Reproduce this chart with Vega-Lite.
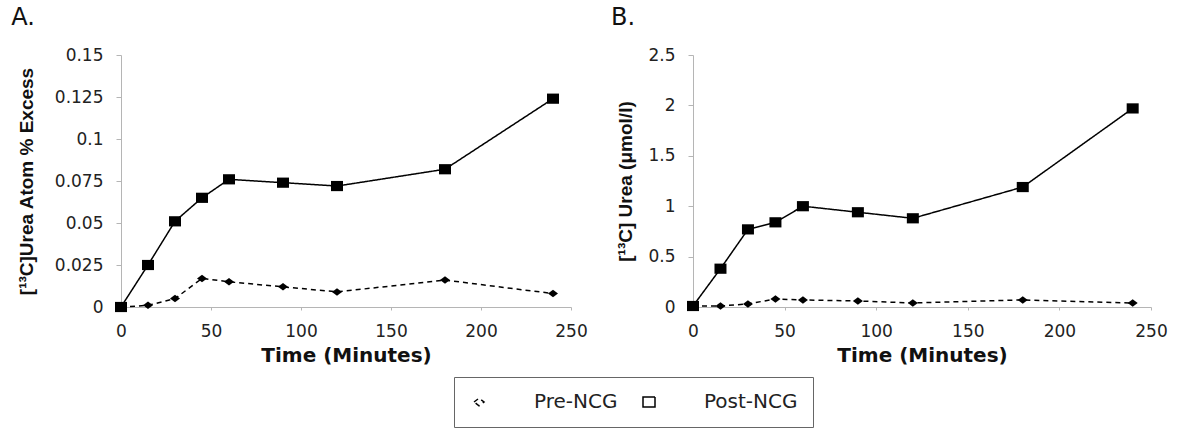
{
  "$schema": "https://vega.github.io/schema/vega-lite/v6.json",
  "padding": {"left": 11, "top": 6, "right": 0, "bottom": 0},
  "config": {
    "font": "DejaVu Sans",
    "view": {"stroke": null},
    "axis": {
      "grid": false,
      "domainColor": "#b5b5b5",
      "tickColor": "#b5b5b5",
      "labelColor": "#222222",
      "labelFont": "DejaVu Sans",
      "labelFontSize": 17,
      "labelFlush": false,
      "titleColor": "#111111"
    },
    "title": {"font": "DejaVu Sans", "fontSize": 24, "fontWeight": "normal", "color": "#111111", "anchor": "start", "frame": "bounds", "dx": -6, "offset": 16}
  },
  "datasets": {
    "A": [
      {"time": 0, "group": "Pre-NCG", "value": 0},
      {"time": 15, "group": "Pre-NCG", "value": 0.001},
      {"time": 30, "group": "Pre-NCG", "value": 0.005},
      {"time": 45, "group": "Pre-NCG", "value": 0.017},
      {"time": 60, "group": "Pre-NCG", "value": 0.015},
      {"time": 90, "group": "Pre-NCG", "value": 0.012},
      {"time": 120, "group": "Pre-NCG", "value": 0.009},
      {"time": 180, "group": "Pre-NCG", "value": 0.016},
      {"time": 240, "group": "Pre-NCG", "value": 0.008},
      {"time": 0, "group": "Post-NCG", "value": 0},
      {"time": 15, "group": "Post-NCG", "value": 0.025},
      {"time": 30, "group": "Post-NCG", "value": 0.051},
      {"time": 45, "group": "Post-NCG", "value": 0.065},
      {"time": 60, "group": "Post-NCG", "value": 0.076},
      {"time": 90, "group": "Post-NCG", "value": 0.074},
      {"time": 120, "group": "Post-NCG", "value": 0.072},
      {"time": 180, "group": "Post-NCG", "value": 0.082},
      {"time": 240, "group": "Post-NCG", "value": 0.124}
    ],
    "B": [
      {"time": 0, "group": "Pre-NCG", "value": 0.01},
      {"time": 15, "group": "Pre-NCG", "value": 0.01},
      {"time": 30, "group": "Pre-NCG", "value": 0.03},
      {"time": 45, "group": "Pre-NCG", "value": 0.08},
      {"time": 60, "group": "Pre-NCG", "value": 0.07},
      {"time": 90, "group": "Pre-NCG", "value": 0.06},
      {"time": 120, "group": "Pre-NCG", "value": 0.04},
      {"time": 180, "group": "Pre-NCG", "value": 0.07},
      {"time": 240, "group": "Pre-NCG", "value": 0.04},
      {"time": 0, "group": "Post-NCG", "value": 0.01},
      {"time": 15, "group": "Post-NCG", "value": 0.38},
      {"time": 30, "group": "Post-NCG", "value": 0.77},
      {"time": 45, "group": "Post-NCG", "value": 0.84},
      {"time": 60, "group": "Post-NCG", "value": 1.0},
      {"time": 90, "group": "Post-NCG", "value": 0.94},
      {"time": 120, "group": "Post-NCG", "value": 0.88},
      {"time": 180, "group": "Post-NCG", "value": 1.19},
      {"time": 240, "group": "Post-NCG", "value": 1.97}
    ]
  },
  "spacing": 22,
  "resolve": {"scale": {"y": "independent", "strokeDash": "shared", "shape": "shared", "size": "shared"}, "legend": {"strokeDash": "shared"}},
  "hconcat": [
    {
      "title": {"text": "A."},
      "width": 450,
      "height": 252,
      "data": {"name": "A"},
      "encoding": {
        "x": {"field": "time", "type": "quantitative", "scale": {"domain": [0, 250]},
          "axis": {"title": "Time (Minutes)", "titleFont": "DejaVu Sans", "titleFontSize": 20, "titleFontWeight": "bold", "values": [0, 50, 100, 150, 200, 250], "tickSize": 3, "labelPadding": 13, "titlePadding": 6}},
        "y": {"field": "value", "type": "quantitative", "scale": {"domain": [0, 0.15]},
          "axis": {"title": "[¹³C]Urea Atom % Excess", "titleFont": "Liberation Sans", "titleFontSize": 19, "titleFontWeight": "bold", "values": [0, 0.025, 0.05, 0.075, 0.1, 0.125, 0.15], "format": ".3~g", "tickSize": 5, "labelPadding": 13, "titlePadding": 18}}
      },
      "layer": [
        {
          "mark": {"type": "line", "color": "black", "strokeWidth": 1.5},
          "encoding": {
            "detail": {"field": "group"},
            "strokeDash": {"field": "group", "type": "nominal",
              "scale": {"domain": ["Pre-NCG", "Post-NCG"], "range": [[5, 4], [1, 0]]},
              "legend": {
                "title": null, "orient": "none", "legendX": 333, "legendY": 322, "direction": "horizontal", "columns": 2,
                "strokeColor": "#666666", "padding": 15, "labelFont": "DejaVu Sans", "labelFontSize": 20, "labelColor": "#222222",
                "symbolSize": 400, "columnPadding": 21, "labelOffset": 45
              }}
          }
        },
        {
          "mark": {"type": "point", "filled": true, "color": "black", "opacity": 1},
          "encoding": {
            "shape": {"field": "group", "type": "nominal", "scale": {"domain": ["Pre-NCG", "Post-NCG"], "range": ["M-1,0L0,-0.75L1,0L0,0.75Z", "M-1,-0.85H1V0.85H-1Z"]}, "legend": null},
            "size": {"field": "group", "type": "nominal", "scale": {"domain": ["Pre-NCG", "Post-NCG"], "range": [100, 144]}, "legend": null}
          }
        }
      ]
    },
    {
      "title": {"text": "B."},
      "width": 458,
      "height": 252,
      "data": {"name": "B"},
      "encoding": {
        "x": {"field": "time", "type": "quantitative", "scale": {"domain": [0, 250]},
          "axis": {"title": "Time (Minutes)", "titleFont": "DejaVu Sans", "titleFontSize": 20, "titleFontWeight": "bold", "values": [0, 50, 100, 150, 200, 250], "tickSize": 3, "labelPadding": 13, "titlePadding": 6}},
        "y": {"field": "value", "type": "quantitative", "scale": {"domain": [0, 2.5]},
          "axis": {"title": "[¹³C] Urea (μmol/l)", "titleFont": "Liberation Sans", "titleFontSize": 19, "titleFontWeight": "bold", "values": [0, 0.5, 1, 1.5, 2, 2.5], "format": ".3~g", "tickSize": 5, "labelPadding": 13, "titlePadding": 12}}
      },
      "layer": [
        {
          "mark": {"type": "line", "color": "black", "strokeWidth": 1.5},
          "encoding": {
            "detail": {"field": "group"},
            "strokeDash": {"field": "group", "type": "nominal", "scale": {"domain": ["Pre-NCG", "Post-NCG"], "range": [[5, 4], [1, 0]]}}
          }
        },
        {
          "mark": {"type": "point", "filled": true, "color": "black", "opacity": 1},
          "encoding": {
            "shape": {"field": "group", "type": "nominal", "scale": {"domain": ["Pre-NCG", "Post-NCG"], "range": ["M-1,0L0,-0.75L1,0L0,0.75Z", "M-1,-0.85H1V0.85H-1Z"]}, "legend": null},
            "size": {"field": "group", "type": "nominal", "scale": {"domain": ["Pre-NCG", "Post-NCG"], "range": [100, 144]}, "legend": null}
          }
        }
      ]
    }
  ]
}
